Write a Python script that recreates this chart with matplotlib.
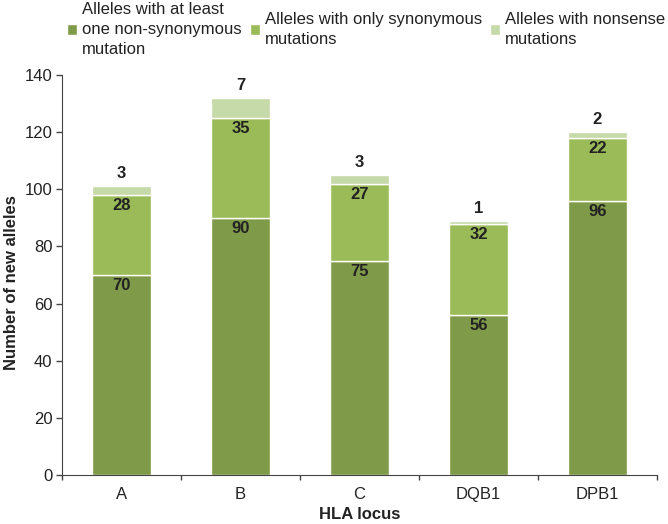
import numpy as np
import matplotlib.pyplot as plt

loci = ['A', 'B', 'C', 'DQB1', 'DPB1']
nonsyn = [70, 90, 75, 56, 96]
syn = [28, 35, 27, 32, 22]
nonsense = [3, 7, 3, 1, 2]

labels = ['Alleles with at least\none non-synonymous\nmutation',
          'Alleles with only synonymous\nmutations',
          'Alleles with nonsense\nmutations']
colors = ['#7f9b4a', '#9bbb59', '#c6d9a8']

plt.rcParams['font.family'] = ['Liberation Sans', 'DejaVu Sans']

fig = plt.figure(figsize=(6.68, 5.24), dpi=100)
ax = fig.add_axes([0.0928, 0.0935, 0.8907, 0.7634])

x = np.arange(len(loci))
w = 0.5
b1 = ax.bar(x, nonsyn, w, color=colors[0], edgecolor='white', linewidth=1, label=labels[0])
b2 = ax.bar(x, syn, w, bottom=nonsyn, color=colors[1], edgecolor='white', linewidth=1, label=labels[1])
bottom2 = np.array(nonsyn) + np.array(syn)
b3 = ax.bar(x, nonsense, w, bottom=bottom2, color=colors[2], edgecolor='white', linewidth=1, label=labels[2])

for i in range(len(loci)):
    ax.text(x[i], nonsyn[i] - 1.2, str(nonsyn[i]), ha='center', va='top',
            fontsize=12, fontweight='bold', color='#222222')
    ax.text(x[i], bottom2[i] - 1.2, str(syn[i]), ha='center', va='top',
            fontsize=12, fontweight='bold', color='#222222')
    ax.text(x[i], bottom2[i] + nonsense[i] + 2.8, str(nonsense[i]), ha='center', va='baseline',
            fontsize=12, fontweight='bold', color='#222222')

ax.set_xlim(-0.5, len(loci) - 0.5)
ax.set_ylim(0, 140)
ax.set_yticks(range(0, 141, 20))
ax.set_xticks(x)
ax.set_xticklabels(loci)
ax.set_xticks(np.arange(-0.5, len(loci)), minor=True)
ax.tick_params(axis='x', which='major', length=0, labelsize=12, pad=8.5, labelcolor='#222222')
ax.tick_params(axis='x', which='minor', length=3.5, direction='out', width=1, color='#444444')
ax.tick_params(axis='y', length=4, width=1, labelsize=12, direction='out', pad=3,
               color='#444444', labelcolor='#222222')
for s in ['top', 'right']:
    ax.spines[s].set_visible(False)
for s in ['left', 'bottom']:
    ax.spines[s].set_color('#444444')
ax.set_xlabel('HLA locus', fontsize=12, fontweight='bold', labelpad=4, color='#222222')
ax.set_ylabel('Number of new alleles', fontsize=12, fontweight='bold', color='#222222')
ax.yaxis.set_label_coords(-0.072, 0.48)

leg = fig.legend(handles=[b1, b2, b3], loc='upper left', bbox_to_anchor=(0.0975, 1.0), ncol=3,
                 frameon=False, fontsize=12, handlelength=0.6, handleheight=0.6,
                 handletextpad=0.3, columnspacing=0.5, borderaxespad=0, borderpad=0.1)
for t in leg.get_texts():
    t.set_linespacing(1.45)
    t.set_color('#222222')

fig.savefig('out.png', dpi=100)
